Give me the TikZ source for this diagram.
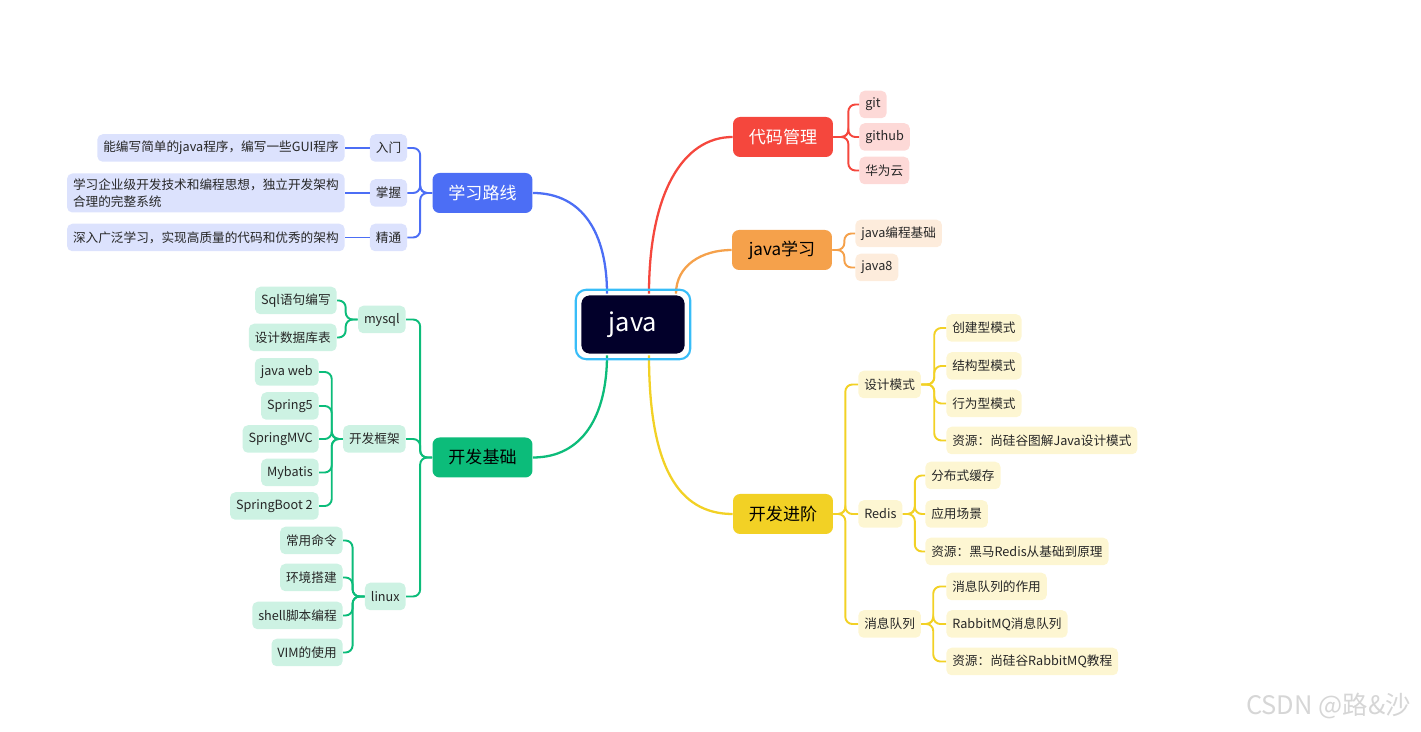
\documentclass[tikz,border=0pt]{standalone}
\usepackage{fontspec}
\setmainfont{Noto Sans CJK SC}
\usetikzlibrary{calc, fit}
\definecolor{cBlue}{HTML}{4C6EF5}
\definecolor{cBlueL}{HTML}{DCE2FD}
\definecolor{cRed}{HTML}{F5473D}
\definecolor{cRedL}{HTML}{FDD9D7}
\definecolor{cOrange}{HTML}{F5A14B}
\definecolor{cOrangeL}{HTML}{FDECDC}
\definecolor{cYellow}{HTML}{F2D125}
\definecolor{cYellowL}{HTML}{FDF6D2}
\definecolor{cGreen}{HTML}{0CBC7A}
\definecolor{cGreenL}{HTML}{CDF2E3}
\definecolor{cRoot}{HTML}{02002A}
\definecolor{cCyan}{HTML}{38BDF8}
\newcommand{\fLeaf}{\fontsize{7.2pt}{9.5pt}\selectfont}
\newcommand{\fMain}{\fontsize{9.7pt}{11pt}\selectfont}
\newcommand{\fRoot}{\fontsize{14.5pt}{16pt}\selectfont}
\newcommand{\fWm}{\fontsize{14.5pt}{16pt}\selectfont}
\tikzset{
  every node/.style={font=\fLeaf},
  root/.style={fill=cRoot, draw=white, line width=1pt, rounded corners=5pt,
               minimum width=2.1cm, minimum height=1.2cm, text=white, font=\fRoot},
  ring/.style={draw=cCyan, line width=1.2pt, rounded corners=6pt, inner sep=2.2pt},
  main/.style={rounded corners=4pt, minimum width=2cm, minimum height=0.8cm, font=\fMain},
  box/.style={rounded corners=3pt, inner xsep=3.4pt, inner ysep=1pt, minimum height=0.55cm,
              text=black!85, font=\fLeaf},
  boxBlue/.style={box, fill=cBlueL},
  boxRed/.style={box, fill=cRedL},
  boxOrange/.style={box, fill=cOrangeL},
  boxYellow/.style={box, fill=cYellowL},
  boxGreen/.style={box, fill=cGreenL},
  ln/.style={line width=1.1pt, rounded corners=4pt},
  lnBlue/.style={ln, draw=cBlue},
  lnRed/.style={ln, draw=cRed},
  lnOrange/.style={ln, draw=cOrange},
  lnYellow/.style={ln, draw=cYellow},
  lnGreen/.style={ln, draw=cGreen},
}

\begin{document}
\begin{tikzpicture}[x=0.02cm, y=-0.02cm]
  \useasboundingbox (0,0) rectangle (1421,732);
  % root and main topics
  \node[root] (java) at (633,324.5) {java};
  \node[main, fill=cBlue, text=white] (xxlx) at (482.5,193) {学习路线};
  \node[main, fill=cGreen] (kfjc) at (482.5,457.5) {开发基础};
  \node[main, fill=cRed, text=white] (dmgl) at (783,137) {代码管理};
  \node[main, fill=cOrange] (javaxx) at (782,250) {java学习};
  \node[main, fill=cYellow] (kfjj) at (783,514) {开发进阶};
  \draw[lnBlue, line width=1.3pt] ($(java.north)+(-26,0)$) .. controls +(0,-60) and +(50,0) .. (xxlx.east);
  \draw[lnRed, line width=1.3pt] ($(java.north)+(16,0)$) .. controls +(0,-100) and +(-50,0) .. (dmgl.west);
  \draw[lnOrange, line width=1.3pt] ($(java.north)+(43,0)$) .. controls +(0,-28) and +(-30,0) .. (javaxx.west);
  \draw[lnGreen, line width=1.3pt] ($(java.south)+(-26,0)$) .. controls +(0,60) and +(50,0) .. (kfjc.east);
  \draw[lnYellow, line width=1.3pt] ($(java.south)+(16,0)$) .. controls +(0,110) and +(-55,0) .. (kfjj.west);
  \node[ring, fit=(java)] (javaring) {};

  % 学习路线
  \node[boxBlue] (rm) at (388.5,148) {入门};
  \node[boxBlue] (zw) at (388.5,193) {掌握};
  \node[boxBlue] (jt) at (388.5,237.5) {精通};
  \node[boxBlue, anchor=east] (rm1) at (345,148) {能编写简单的java程序，编写一些GUI程序};
  \node[boxBlue, anchor=east, align=left, inner ysep=3pt] (zw1) at (345,193)
    {学习企业级开发技术和编程思想，独立开发架构\\合理的完整系统};
  \node[boxBlue, anchor=east] (jt1) at (345,237.5) {深入广泛学习，实现高质量的代码和优秀的架构};
  \foreach \c in {rm,zw,jt} {
    \draw[lnBlue] (xxlx.west) -- ++(-12,0) |- (\c.east);
    \draw[lnBlue] (\c.west) -- (\c1.east);
  }

  % 代码管理
  \node[boxRed, anchor=west] (git) at (859,104.5) {git};
  \node[boxRed, anchor=west] (github) at (859,137) {github};
  \node[boxRed, anchor=west] (hwy) at (859,170.5) {华为云};
  \foreach \c in {git,github,hwy}
    \draw[lnRed] (dmgl.east) -- ++(15,0) |- (\c.west);

  % java学习
  \node[boxOrange, anchor=west] (jcjc) at (855,233.5) {java编程基础};
  \node[boxOrange, anchor=west] (java8) at (855,267.5) {java8};
  \foreach \c in {jcjc,java8}
    \draw[lnOrange] (javaxx.east) -- ++(12,0) |- (\c.west);

  % 开发进阶
  \node[boxYellow, anchor=west] (sjms) at (858,384.5) {设计模式};
  \node[boxYellow, anchor=west] (redis) at (858,514) {Redis};
  \node[boxYellow, anchor=west] (xxdl) at (858,624) {消息队列};
  \foreach \c in {sjms,redis,xxdl}
    \draw[lnYellow] (kfjj.east) -- ++(12,0) |- (\c.west);
  \node[boxYellow, anchor=west] (cjx) at (946,328) {创建型模式};
  \node[boxYellow, anchor=west] (jgx) at (946,366) {结构型模式};
  \node[boxYellow, anchor=west] (xwx) at (946,403.5) {行为型模式};
  \node[boxYellow, anchor=west] (sjzy) at (946,440.5) {资源：尚硅谷图解Java设计模式};
  \foreach \c in {cjx,jgx,xwx,sjzy}
    \draw[lnYellow] (sjms.east) -- ++(13,0) |- (\c.west);
  \node[boxYellow, anchor=west] (fbs) at (925,475.5) {分布式缓存};
  \node[boxYellow, anchor=west] (yycj) at (925,514) {应用场景};
  \node[boxYellow, anchor=west] (hmzy) at (925,551.5) {资源：黑马Redis从基础到原理};
  \foreach \c in {fbs,yycj,hmzy}
    \draw[lnYellow] (redis.east) -- ++(12,0) |- (\c.west);
  \node[boxYellow, anchor=west] (xxzy) at (946,586.5) {消息队列的作用};
  \node[boxYellow, anchor=west] (rmq) at (946,624) {RabbitMQ消息队列};
  \node[boxYellow, anchor=west] (sgzy) at (946,661.5) {资源：尚硅谷RabbitMQ教程};
  \foreach \c in {xxzy,rmq,sgzy}
    \draw[lnYellow] (xxdl.east) -- ++(12,0) |- (\c.west);

  % 开发基础
  \node[boxGreen, anchor=east] (mysql) at (406,319.5) {mysql};
  \node[boxGreen, anchor=east] (kfkj) at (406,439) {开发框架};
  \node[boxGreen, anchor=east] (linux) at (406,596.5) {linux};
  \foreach \c in {mysql,kfkj,linux}
    \draw[lnGreen] (kfjc.west) -- ++(-12,0) |- (\c.east);
  \node[boxGreen, anchor=east] (sql) at (337,300.5) {Sql语句编写};
  \node[boxGreen, anchor=east] (sjk) at (337,337.5) {设计数据库表};
  \foreach \c in {sql,sjk}
    \draw[lnGreen] (mysql.west) -- ++(-12,0) |- (\c.east);
  \node[boxGreen, anchor=east] (jweb) at (319,372) {java web};
  \node[boxGreen, anchor=east] (spr5) at (319,406) {Spring5};
  \node[boxGreen, anchor=east] (smvc) at (319,439) {SpringMVC};
  \node[boxGreen, anchor=east] (mybt) at (319,472.5) {Mybatis};
  \node[boxGreen, anchor=east] (sboot) at (319,506) {SpringBoot 2};
  \foreach \c in {jweb,spr5,smvc,mybt,sboot}
    \draw[lnGreen] (kfkj.west) -- ++(-11,0) |- (\c.east);
  \node[boxGreen, anchor=east] (cyml) at (343,540.5) {常用命令};
  \node[boxGreen, anchor=east] (hjdj) at (343,577.5) {环境搭建};
  \node[boxGreen, anchor=east] (shell) at (343,615.5) {shell脚本编程};
  \node[boxGreen, anchor=east] (vim) at (343,652.5) {VIM的使用};
  \foreach \c in {cyml,hjdj,shell,vim}
    \draw[lnGreen] (linux.west) -- ++(-12,0) |- (\c.east);

  \node[font=\fWm, text=black!16, anchor=east] (wm) at (1417,706) {CSDN @路\&沙};
\end{tikzpicture}
\end{document}
